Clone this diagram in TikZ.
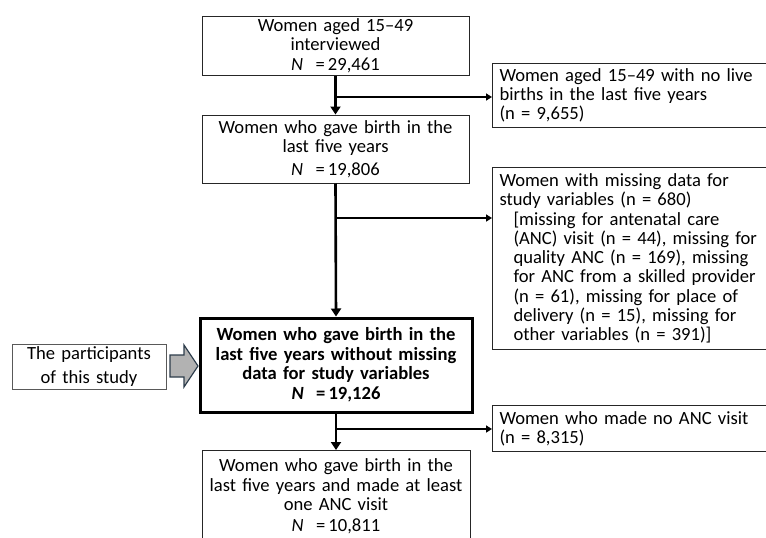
\documentclass[tikz,border=0pt]{standalone}
\usepackage{fontspec}
\setmainfont{Carlito}
\usetikzlibrary{arrows.meta,positioning,calc}
\colorlet{boxline}{black!85}
\colorlet{pointerfill}{gray!60}
\definecolor{pointerline}{RGB}{45,60,75}

\tikzset{
  flowbox/.style={draw=boxline,line width=1pt,fill=white,align=center,inner sep=0pt,
    text=black,font=\fontsize{18.6}{19.3}\selectfont},
  sidebox/.style={draw=boxline,line width=1pt,fill=white,align=left,anchor=north west,
    inner xsep=7pt,inner ysep=0pt,text width=300pt,text=black,
    font=\fontsize{18.6}{19.3}\selectfont},
  trunk/.style={line width=2.6pt,-{Triangle[length=8pt,width=10pt]}},
  branch/.style={line width=2.2pt,-{Triangle[length=6pt,width=7pt]}},
}

\begin{document}
\begin{tikzpicture}[x=1pt,y=-1pt]
\clip (0,0) rectangle (766,538);

% main column
\node[flowbox,minimum width=267pt,minimum height=59pt,text width=262pt] (interviewed) at (335.5,45.5)
  {Women aged 15--49\\interviewed\\\textit{N}~~=\,29,461};
\node[flowbox,minimum width=267pt,minimum height=68pt,text width=262pt] (birth) at (335.5,149)
  {Women who gave birth in the\\last five years\\[3pt]\textit{N}~~=\,19,806};
\node[flowbox,draw=black,line width=3pt,minimum width=272pt,minimum height=94pt,text width=266pt,
  font=\fontsize{18.6}{19.3}\selectfont\bfseries] (complete) at (336,365)
  {Women who gave birth in the\\last five years without missing\\data for study variables\\[1pt]\textit{N}~~=\,19,126};
\node[flowbox,anchor=north,minimum width=268pt,minimum height=92pt,text width=266pt] (visited) at (336,450)
  {Women who gave birth in the\\last five years and made at least\\one ANC visit\\[2pt]\textit{N}~~=\,10,811};

% excluded boxes
\node[sidebox,minimum height=64pt] (nobirth) at (492,63)
  {Women aged 15--49 with no live\\births in the last five years\\(n = 9,655)};
\node[sidebox,minimum height=182pt] (missing) at (492,167)
  {Women with missing data for\\study variables (n = 680)\\
   \hspace*{14pt}[missing for antenatal care\\
   \hspace*{14pt}(ANC) visit (n = 44), missing for\\
   \hspace*{14pt}quality ANC (n = 169), missing\\
   \hspace*{14pt}for ANC from a skilled provider\\
   \hspace*{14pt}(n = 61), missing for place of\\
   \hspace*{14pt}delivery (n = 15), missing for\\
   \hspace*{14pt}other variables (n = 391)]};
\node[sidebox,minimum height=46pt] (noanc) at (492,405)
  {Women who made no ANC visit\\(n = 8,315)};

% participants label
\node[flowbox,draw=black!65,minimum width=154pt,minimum height=45pt,text width=150pt] (participants) at (89,366.5)
  {The participants\\[4pt]of this study};

% trunk and branches
\draw[trunk] (interviewed.south) -- (birth.north);
\draw[trunk] (birth.south) -- (complete.north);
\draw[trunk] (complete.south) -- (visited.north);

\coordinate (split1) at (335.5,97);
\coordinate (split2) at (335.5,218);
\coordinate (split3) at (336,429);
\draw[branch] (split1) -- (split1 -| nobirth.west);
\draw[branch] (split2) -- (split2 -| missing.west);
\draw[branch] (split3) -- (split3 -| noanc.west);

% gray pointer
\filldraw[fill=pointerfill,draw=pointerline,line width=1.2pt]
  (170,355) -- (184,355) -- (184,345) -- (198,366) -- (184,387) -- (184,377) -- (170,377) -- cycle;
\end{tikzpicture}
\end{document}
